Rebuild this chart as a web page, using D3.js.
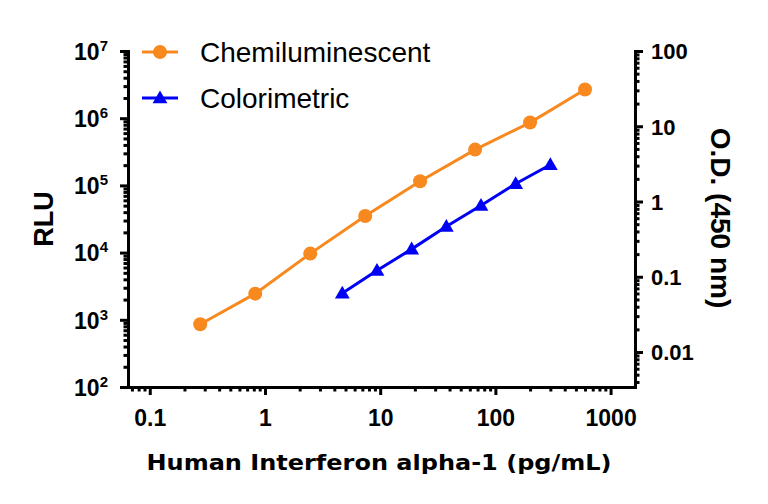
<!DOCTYPE html>
<html>
<head>
<meta charset="utf-8">
<script src="https://cdn.jsdelivr.net/npm/d3@7"></script>
<style>
  body { margin: 0; background: #fff; }
  svg { display: block; }
  .tick text { font-family: "Liberation Sans", Arial, sans-serif; font-weight: bold; }
</style>
</head>
<body>
<div id="chart"></div>
<script>
// data
const chemX = [0.274, 0.823, 2.47, 7.41, 22.2, 66.7, 200, 600];
const chemY = [857, 2450, 9660, 35100, 115000, 341000, 861000, 2670000];
const coloX = [4.69, 9.38, 18.75, 37.5, 75, 150, 300];
const coloY = [0.0605, 0.121, 0.233, 0.466, 0.885, 1.72, 3.08];

const xTicks = [0.1, 1, 10, 100, 1000];
const xTickLabels = ["0.1", "1", "10", "100", "1000"];
const leftTicks = [1e2, 1e3, 1e4, 1e5, 1e6, 1e7];
const leftExps = ["2", "3", "4", "5", "6", "7"];
const rightTicks = [0.01, 0.1, 1, 10, 100];
const rightTickLabels = ["0.01", "0.1", "1", "10", "100"];
const seriesNames = ["Chemiluminescent", "Colorimetric"];

const w = 768, h = 504;
const pLeft = 128, pRight = 635, pTop = 51, pBottom = 387;
const orange = "#f7891f", blue = "#0000f5";

const svg = d3.select("#chart").append("svg")
    .attr("width", w).attr("height", h);

const x = d3.scaleLog().domain([0.0647, 1629]).range([pLeft, pRight]);
const yL = d3.scaleLog().domain([100, 1e7]).range([pBottom, pTop]);
const yR = d3.scaleLog().domain([0.00343, 100]).range([pBottom, pTop]);

// minor tick values 2..9 of each decade inside the domain
function minors(lo, hi, from, to) {
    let out = [];
    for (let e = lo; e <= hi; e++) {
        for (let m = 1; m <= 9; m++) {
            let v = m * Math.pow(10, e);
            if (m > 1 && v >= from * 0.999 && v <= to * 1.001) out.push(+v.toPrecision(3));
        }
    }
    return out;
}

// X axis
svg.append("g").attr("transform", "translate(0," + pBottom + ")")
    .call(d3.axisBottom(x).tickValues(minors(-2, 2, 0.07, 900)).tickSize(4.5).tickSizeOuter(0).tickFormat(""))
    .call(g => g.select(".domain").remove());
const xa = svg.append("g").attr("transform", "translate(0," + pBottom + ")")
    .call(d3.axisBottom(x).tickValues(xTicks).tickSize(8).tickSizeOuter(0)
        .tickFormat((d, i) => xTickLabels[i]));
xa.selectAll(".tick text").attr("font-size", 23).attr("dy", "1.2em");

// left axis
svg.append("g").attr("transform", "translate(" + pLeft + ",0)")
    .call(d3.axisLeft(yL).tickValues(minors(2, 6, 200, 9e6)).tickSize(4.5).tickSizeOuter(0).tickFormat(""))
    .call(g => g.select(".domain").remove());
const la = svg.append("g").attr("transform", "translate(" + pLeft + ",0)")
    .call(d3.axisLeft(yL).tickValues(leftTicks).tickSize(8).tickSizeOuter(0).tickFormat(""));
la.selectAll(".tick text").each(function(d, i) {
    const t = d3.select(this).attr("font-size", 23).attr("x", -20).attr("dy", "0.36em");
    t.text("10");
    t.append("tspan").attr("font-size", 15).attr("dy", "-0.6em").text(leftExps[i]);
});

// right axis
svg.append("g").attr("transform", "translate(" + pRight + ",0)")
    .call(d3.axisRight(yR).tickValues(minors(-3, 1, 0.004, 90)).tickSize(4.5).tickSizeOuter(0).tickFormat(""))
    .call(g => g.select(".domain").remove());
const ra = svg.append("g").attr("transform", "translate(" + pRight + ",0)")
    .call(d3.axisRight(yR).tickValues(rightTicks).tickSize(8).tickSizeOuter(0)
        .tickFormat((d, i) => rightTickLabels[i]));
ra.selectAll(".tick text").attr("font-size", 22).attr("x", 16).attr("dy", "0.36em");

svg.selectAll(".domain").attr("stroke-width", 3).attr("stroke-linecap", "square");
svg.selectAll(".tick line").attr("stroke-width", 3);

// axis titles
svg.append("text")
    .attr("transform", "translate(53," + (pTop + pBottom) / 2 + ") rotate(-90)")
    .attr("text-anchor", "middle")
    .style("font-family", "Liberation Sans, Arial, sans-serif")
    .style("font-weight", "bold").style("font-size", "27px")
    .text("RLU");

svg.append("text")
    .attr("transform", "translate(711,218) rotate(90)")
    .attr("text-anchor", "middle")
    .style("font-family", "Liberation Sans, Arial, sans-serif")
    .style("font-weight", "bold").style("font-size", "28px")
    .text("O.D. (450 nm)");

svg.append("text")
    .attr("x", 379).attr("y", 470)
    .attr("text-anchor", "middle")
    .attr("textLength", 465).attr("lengthAdjust", "spacingAndGlyphs")
    .style("font-family", "DejaVu Sans, sans-serif")
    .style("font-weight", "bold").style("font-size", "22px")
    .text("Human Interferon alpha-1 (pg/mL)");

// series
const chem = chemX.map((v, i) => [v, chemY[i]]);
const colo = coloX.map((v, i) => [v, coloY[i]]);

svg.append("path").datum(chem)
    .attr("fill", "none").attr("stroke", orange).attr("stroke-width", 3)
    .attr("d", d3.line().x(d => x(d[0])).y(d => yL(d[1])));
svg.selectAll(".chem").data(chem).enter().append("circle")
    .attr("class", "chem")
    .attr("cx", d => x(d[0])).attr("cy", d => yL(d[1]))
    .attr("r", 7).attr("fill", orange);

svg.append("path").datum(colo)
    .attr("fill", "none").attr("stroke", blue).attr("stroke-width", 3)
    .attr("d", d3.line().x(d => x(d[0])).y(d => yR(d[1])));
const tri = d3.symbol().type(d3.symbolTriangle).size(95);
svg.selectAll(".colo").data(colo).enter().append("path")
    .attr("class", "colo")
    .attr("transform", d => "translate(" + x(d[0]) + "," + (yR(d[1]) + 1) + ")")
    .attr("d", tri).attr("fill", blue);

// legend
const leg = svg.append("g");
const legY = [52, 98];
const legCol = [orange, blue];
legY.forEach((ly, i) => {
    leg.append("line").attr("x1", 142).attr("x2", 178).attr("y1", ly).attr("y2", ly)
        .attr("stroke", legCol[i]).attr("stroke-width", 3);
    if (i == 0) {
        leg.append("circle").attr("cx", 160).attr("cy", ly).attr("r", 7).attr("fill", orange);
    } else {
        leg.append("path").attr("transform", "translate(160," + (ly + 1) + ")").attr("d", tri).attr("fill", blue);
    }
    leg.append("text").attr("x", 200).attr("y", ly).attr("dy", "0.36em")
        .style("font-family", "Liberation Sans, Arial, sans-serif")
        .style("font-size", "28px")
        .text(seriesNames[i]);
});
</script>
</body>
</html>
